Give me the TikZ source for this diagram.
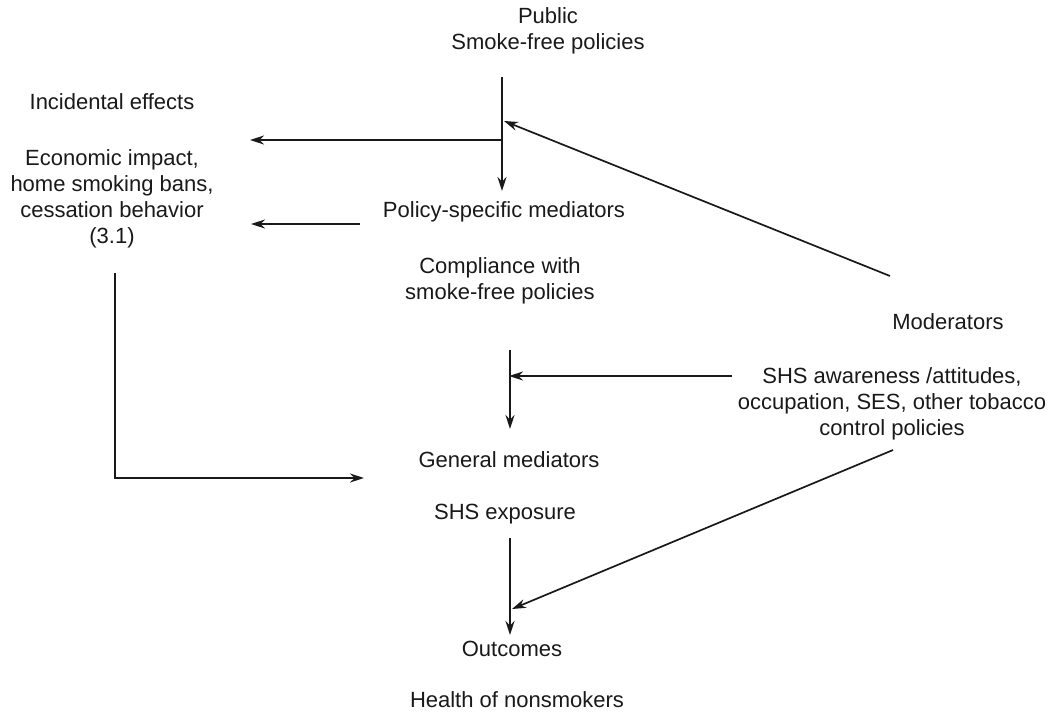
\documentclass[tikz,border=0pt]{standalone}
\usepackage{fontspec}
\setmainfont{Liberation Sans}
\usetikzlibrary{arrows.meta}
\begin{document}
\begin{tikzpicture}[x=1pt,y=-1pt,
  lbl/.style={inner sep=0pt,align=center,font=\fontsize{22}{26}\selectfont,text=black!90},
  arr/.style={line width=1.7pt,draw=black!90,-{Stealth[length=14pt,width=9pt]}}]
\useasboundingbox (0,0) rectangle (1056,715);
% texts
\node[lbl] (pub) at (548,31) {Public\\Smoke-free policies};
\node[lbl] (inc) at (112,102) {Incidental effects};
\node[lbl] (eco) at (112,199) {Economic impact,\\home smoking bans,\\cessation behavior\\(3.1)};
\node[lbl] (psm) at (504,212) {Policy-specific mediators};
\node[lbl] (comp) at (500,281) {Compliance with\\smoke-free policies};
\node[lbl] (mod) at (948,322) {Moderators};
\node[lbl] (shsa) at (892,404) {SHS awareness /attitudes,\\occupation, SES, other tobacco\\control policies};
\node[lbl] (gen) at (509,460) {General mediators};
\node[lbl] (exp) at (505,514) {SHS exposure};
\node[lbl] (out) at (512,649) {Outcomes};
\node[lbl] (hea) at (517,700) {Health of nonsmokers};
% connector points
\coordinate (a1) at (502,77);
\coordinate (a2) at (502,191);
\coordinate (b1) at (502,140);
\coordinate (b2) at (250,140);
\coordinate (c1) at (360,224);
\coordinate (c2) at (251,224);
\coordinate (d1) at (890,276);
\coordinate (d2) at (504,121);
\coordinate (e1) at (115,273);
\coordinate (e2) at (115,478);
\coordinate (e3) at (364,478);
\coordinate (f1) at (510,350);
\coordinate (f2) at (510,429);
\coordinate (g1) at (732,376);
\coordinate (g2) at (509,376);
\coordinate (h1) at (510,538);
\coordinate (h2) at (510,635);
\coordinate (i1) at (893,450);
\coordinate (i2) at (512,609);
% connectors
\draw[arr] (a1) -- (a2);
\draw[arr] (b1) -- (b2);
\draw[arr] (c1) -- (c2);
\draw[arr] (d1) -- (d2);
\draw[arr] (e1) -- (e2) -- (e3);
\draw[arr] (f1) -- (f2);
\draw[arr] (g1) -- (g2);
\draw[arr] (h1) -- (h2);
\draw[arr] (i1) -- (i2);
\end{tikzpicture}
\end{document}
